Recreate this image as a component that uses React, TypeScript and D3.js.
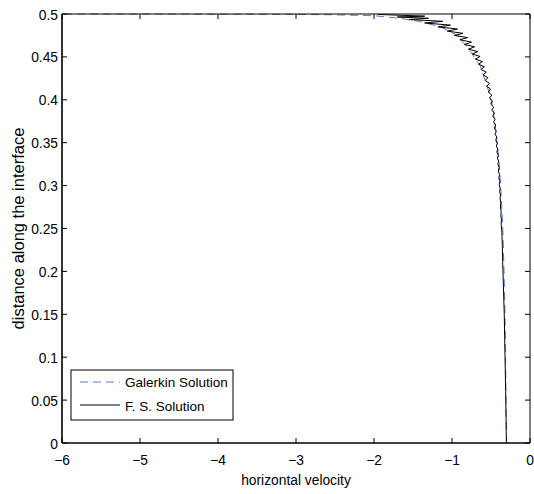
import React from "react";
import * as d3 from "d3";

const xTicks = [-6, -5, -4, -3, -2, -1, 0];
const yTicks = [0, 0.05, 0.1, 0.15, 0.2, 0.25, 0.3, 0.35, 0.4, 0.45, 0.5];
const yTickLabels = ["0", "0.05", "0.1", "0.15", "0.2", "0.25", "0.3", "0.35", "0.4", "0.45", "0.5"];

const seriesNames = ["Galerkin Solution", "F. S. Solution"];

// Galerkin solution: [horizontal velocity, distance]
const galerkinX = [-0.3, -0.308, -0.314, -0.32, -0.333, -0.348, -0.37, -0.398, -0.445, -0.485, -0.53, -0.64, -0.81, -0.94, -1.15, -1.4, -1.67, -2.0, -2.6, -3.5, -4.5, -6.0];
const galerkinY = [0.0, 0.05, 0.1, 0.15, 0.2, 0.25, 0.29, 0.33, 0.37, 0.395, 0.41, 0.44, 0.462, 0.4755, 0.485, 0.491, 0.495, 0.498, 0.4992, 0.4997, 0.4999, 0.5];

// F. S. solution (oscillating): [horizontal velocity, distance]
const fsX = [
  -1.95, -1.35, -1.7, -1.3, -1.55, -1.12, -1.35, -1.02, -1.18, -0.93,
  -1.06, -0.86, -0.97, -0.8, -0.9, -0.75, -0.84, -0.71, -0.79, -0.67,
  -0.74, -0.64, -0.7, -0.61, -0.66, -0.585, -0.63, -0.56, -0.6, -0.54,
  -0.575, -0.52, -0.555, -0.505, -0.535, -0.49, -0.52, -0.48, -0.505, -0.465,
  -0.49, -0.455, -0.478, -0.447, -0.467, -0.44, -0.457, -0.432, -0.448, -0.425,
  -0.44, -0.418, -0.432, -0.412, -0.425, -0.406, -0.418, -0.401, -0.412, -0.396,
  -0.406, -0.391, -0.4, -0.386, -0.394, -0.382, -0.389, -0.378, -0.384, -0.374,
  -0.379, -0.37, -0.374, -0.366, -0.369, -0.36, -0.355, -0.35, -0.343, -0.337,
  -0.33, -0.324, -0.318, -0.312, -0.307, -0.303,
];
const fsY = [
  0.4995, 0.4975, 0.4965, 0.495, 0.4935, 0.4915, 0.4895, 0.487, 0.485, 0.4825,
  0.48, 0.4775, 0.475, 0.4725, 0.47, 0.4672, 0.4645, 0.4618, 0.459, 0.4562,
  0.4535, 0.4505, 0.4475, 0.4445, 0.4415, 0.4385, 0.4355, 0.4322, 0.429, 0.4258,
  0.4225, 0.4192, 0.4158, 0.4125, 0.409, 0.4055, 0.402, 0.3985, 0.395, 0.3915,
  0.388, 0.3845, 0.381, 0.3775, 0.374, 0.3705, 0.367, 0.3635, 0.36, 0.3565,
  0.353, 0.3495, 0.346, 0.3425, 0.339, 0.3355, 0.332, 0.3285, 0.325, 0.321,
  0.317, 0.313, 0.309, 0.305, 0.301, 0.297, 0.293, 0.289, 0.285, 0.28,
  0.275, 0.27, 0.265, 0.26, 0.255, 0.245, 0.23, 0.21, 0.19, 0.17,
  0.15, 0.12, 0.09, 0.06, 0.03, 0.0,
];

const W = 534;
const H = 494;
const M = { left: 62, right: 530, top: 14, bottom: 443 };
const FONT = "'Liberation Sans', Arial, Helvetica, sans-serif";
const BLUE = "#5a7ccc";

export default function App() {
  const x = d3.scaleLinear().domain([-6, 0]).range([M.left, M.right]);
  const y = d3.scaleLinear().domain([0, 0.5]).range([M.bottom, M.top]);
  const line = d3
    .line<[number, number]>()
    .x((d) => x(d[0]))
    .y((d) => y(d[1]));
  const gPts = galerkinX.map((v, i) => [v, galerkinY[i]] as [number, number]);
  const fPts = fsX.map((v, i) => [v, fsY[i]] as [number, number]);
  const tl = 5;

  return (
    <svg
      width={W}
      height={H}
      style={{ position: "absolute", left: 0, top: 0, background: "#fff" }}
      fontFamily={FONT}
    >
      <rect x={0} y={0} width={W} height={H} fill="#fff" />
      <defs>
        <clipPath id="plotclip">
          <rect x={M.left} y={M.top - 1} width={M.right - M.left} height={M.bottom - M.top + 1} />
        </clipPath>
      </defs>
      <g clipPath="url(#plotclip)">
        <path d={line(gPts) || ""} fill="none" stroke={BLUE} strokeWidth={1} strokeDasharray="8,5" />
        <path d={line(fPts) || ""} fill="none" stroke="#000" strokeWidth={1} />
      </g>
      {/* box */}
      <line x1={M.left} x2={M.right} y1={M.top} y2={M.top} stroke="#000" strokeWidth={1} />
      <line x1={M.right} x2={M.right} y1={M.top} y2={M.bottom} stroke="#000" strokeWidth={1} />
      <line x1={M.left} x2={M.right} y1={M.bottom} y2={M.bottom} stroke="#000" strokeWidth={1.6} />
      <line x1={M.left} x2={M.left} y1={M.top} y2={M.bottom} stroke="#000" strokeWidth={1.6} />
      {/* x ticks */}
      {xTicks.map((t) => (
        <g key={"x" + t}>
          <line x1={x(t)} x2={x(t)} y1={M.bottom} y2={M.bottom - tl} stroke="#000" />
          <line x1={x(t)} x2={x(t)} y1={M.top} y2={M.top + tl} stroke="#000" />
          <text x={x(t)} y={M.bottom + 22} textAnchor="middle" fontSize={13.8} fill="#000">
            {t < 0 ? "\u2212" + Math.abs(t) : String(t)}
          </text>
        </g>
      ))}
      {/* y ticks */}
      {yTicks.map((t, i) => (
        <g key={"y" + t}>
          <line x1={M.left} x2={M.left + tl} y1={y(t)} y2={y(t)} stroke="#000" />
          <line x1={M.right} x2={M.right - tl} y1={y(t)} y2={y(t)} stroke="#000" />
          <text x={M.left - 4} y={y(t) + 5.5} textAnchor="end" fontSize={13.8} fill="#000">
            {yTickLabels[i]}
          </text>
        </g>
      ))}
      <text x={(M.left + M.right) / 2} y={485} textAnchor="middle" fontSize={13.8} fill="#000">
        horizontal velocity
      </text>
      <text
        transform={`translate(24, ${(M.top + M.bottom) / 2}) rotate(-90)`}
        textAnchor="middle"
        fontSize={16.5}
        fill="#000"
      >
        distance along the interface
      </text>
      {/* legend */}
      <rect x={71} y={370} width={162} height={50} fill="#fff" stroke="#000" strokeWidth={1} />
      <line x1={80} x2={120} y1={382} y2={382} stroke={BLUE} strokeWidth={1} strokeDasharray="8,5" />
      <text x={125} y={387} fontSize={13.5} fill="#000">{seriesNames[0]}</text>
      <line x1={80} x2={120} y1={405} y2={405} stroke="#000" strokeWidth={1} />
      <text x={125} y={410.5} fontSize={13.5} fill="#000">{seriesNames[1]}</text>
    </svg>
  );
}
